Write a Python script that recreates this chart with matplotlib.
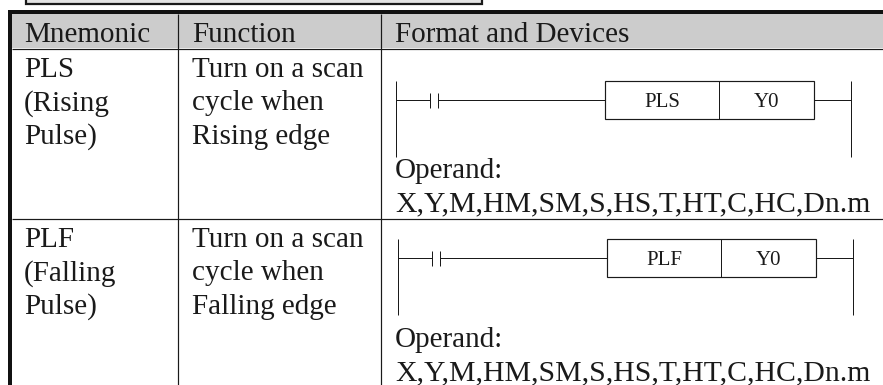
#!/usr/bin/env python
"""PLS / PLF instruction table, drawn in image pixel coordinates."""
import matplotlib
matplotlib.use("Agg")
import matplotlib.pyplot as plt

W, H = 883, 385
INK = "#1a1a1a"
GRAY = "#cccccc"
plt.rcParams["font.family"] = ["Liberation Serif", "DejaVu Serif"]

HEADERS = ["Mnemonic", "Function", "Format and Devices"]
MNEMONICS = [["PLS", "(Rising", "Pulse)"], ["PLF", "(Falling", "Pulse)"]]
FUNCTIONS = [["Turn on a scan", "cycle when", "Rising edge"],
             ["Turn on a scan", "cycle when", "Falling edge"]]
COILS = ["PLS", "PLF"]
OUTPUT = "Y0"
OPERAND = "Operand:"
DEVICES = "X,Y,M,HM,SM,S,HS,T,HT,C,HC,Dn.m"

COL_X = [24, 192, 395]      # text left edges
ROW_TOP = [48, 218]
FS = 21.0
FS_DEV = 21.4
FS_SMALL = 15


def line(ax, x0, y0, x1, y1, lw=1.0, color=INK):
    ax.plot([x0, x1], [y0, y1], color=color, lw=lw * 0.72,
            solid_capstyle="butt")


def rung(ax, top, dx):
    """one ladder rung, top = y of the power rails' upper end"""
    y = top + 19
    x0, x1 = 396 + dx, 851 + dx
    line(ax, x0, top, x0, top + 76)
    line(ax, x1, top, x1, top + 76)
    line(ax, x0, y, 430 + dx, y)
    line(ax, 430 + dx, y - 7.5, 430 + dx, y + 7.5)
    line(ax, 438 + dx, y - 7.5, 438 + dx, y + 7.5)
    line(ax, 438 + dx, y, 605 + dx, y)
    ax.add_patch(plt.Rectangle((605 + dx, top), 209, 38, fill=False,
                               ec=INK, lw=0.85))
    line(ax, 719 + dx, top, 719 + dx, top + 38)
    line(ax, 814 + dx, y, x1, y)


fig = plt.figure(figsize=(W / 100, H / 100), dpi=100)
ax = fig.add_axes([0, 0, 1, 1])
ax.set_xlim(0, W)
ax.set_ylim(H, 0)
ax.axis("off")

# box cut off at the top of the page
ax.add_patch(plt.Rectangle((26, -4), 456, 8, fc="#e4e4e4", ec=INK, lw=1.6))

# header band
ax.add_patch(plt.Rectangle((10, 12), W - 10, 36, fc=GRAY, ec="none"))
line(ax, 8, 12, W, 12, lw=4, color="#111111")
line(ax, 10, 10, 10, H, lw=4, color="#111111")
line(ax, 12, 48.5, W, 48.5, lw=1.2)
line(ax, 12, 218.5, W, 218.5, lw=1.2)
line(ax, 177.5, 14, 177.5, H, lw=1.2)
line(ax, 380.5, 14, 380.5, H, lw=1.2)

for x, label in zip(COL_X, HEADERS):
    ax.text(x, 41.5, label, fontsize=FS, color=INK, ha="left", va="baseline")

for i, top in enumerate(ROW_TOP):
    base = top + 29
    for j, (m, f) in enumerate(zip(MNEMONICS[i], FUNCTIONS[i])):
        ax.text(COL_X[0], base + j * 33.3, m, fontsize=FS, color=INK, va="baseline")
        ax.text(COL_X[1], base + j * 33.3, f, fontsize=FS, color=INK, va="baseline")

for i, (top, dx) in enumerate(zip([81, 239], [0, 2])):
    rung(ax, top, dx)
    ax.text(662 + dx, top + 26, COILS[i], fontsize=FS_SMALL, color=INK, ha="center", va="baseline")
    ax.text(766 + dx, top + 26, OUTPUT, fontsize=FS_SMALL, color=INK, ha="center", va="baseline")

ax.text(395, 178, OPERAND, fontsize=FS, color=INK, va="baseline")
ax.text(395, 211.5, DEVICES, fontsize=FS_DEV, color=INK, va="baseline")
ax.text(395, 347, OPERAND, fontsize=FS, color=INK, va="baseline")
ax.text(395, 380.5, DEVICES, fontsize=FS_DEV, color=INK, va="baseline")

fig.savefig("out.png", dpi=100)
